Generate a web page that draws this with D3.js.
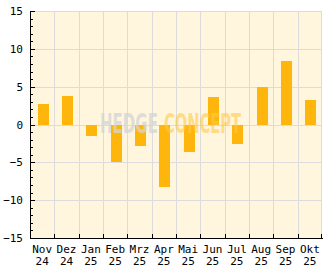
<!DOCTYPE html>
<html>
<head>
<meta charset="utf-8">
<script src="https://cdn.jsdelivr.net/npm/d3@7"></script>
<style>
  body { margin: 0; background: #fff; }
  svg { display: block; }
  .axis text { font-family: "DejaVu Sans Mono", monospace; font-size: 11px; fill: #000; }
  .axis path, .axis line { stroke: #000; shape-rendering: crispEdges; }
</style>
</head>
<body>
<div id="chart"></div>
<script>
// monthly values
var months = ['Nov', 'Dez', 'Jan', 'Feb', 'Mrz', 'Apr', 'Mai', 'Jun', 'Jul', 'Aug', 'Sep', 'Okt'];
var years = ['24', '24', '25', '25', '25', '25', '25', '25', '25', '25', '25', '25'];
var values = [2.7, 3.8, -1.5, -5.0, -2.9, -8.2, -3.7, 3.6, -2.6, 4.9, 8.4, 3.2];
var yTicks = [-15, -10, -5, 0, 5, 10, 15];

var margin = {top: 11, right: 10, bottom: 31, left: 30},
    width = 332 - margin.left - margin.right,
    height = 269 - margin.top - margin.bottom;

var keys = months.map(function(m, i) { return m + ' ' + years[i]; });

var x = d3.scaleBand().domain(keys).range([0, width]).paddingInner(0.548).paddingOuter(0.274);
var xb = d3.scaleBand().domain(keys).range([0, width]);
var y = d3.scaleLinear().domain([-15, 15]).range([height, 0]);

var svg = d3.select('#chart')
  .append('svg')
    .attr('width', 332)
    .attr('height', 269)
  .append('g')
    .attr('transform', 'translate(' + margin.left + ',' + margin.top + ')');

// plot background
svg.append('rect')
  .attr('width', width)
  .attr('height', height)
  .attr('fill', '#fff6dd');

// grid
var grid = svg.append('g').attr('stroke', '#dcdcdc').attr('shape-rendering', 'crispEdges');
grid.selectAll('.hg')
  .data(yTicks)
  .enter().append('line')
  .attr('x1', 0).attr('x2', width)
  .attr('y1', function(d) { return Math.round(y(d)) + 0.5; })
  .attr('y2', function(d) { return Math.round(y(d)) + 0.5; });
grid.selectAll('.vg')
  .data(keys.slice(1).concat(['end']))
  .enter().append('line')
  .attr('x1', function(d) { return d === 'end' ? width - 0.5 : Math.round(xb(d)) + 0.5; })
  .attr('x2', function(d) { return d === 'end' ? width - 0.5 : Math.round(xb(d)) + 0.5; })
  .attr('y1', 0).attr('y2', height);

// bars
svg.selectAll('.bar')
  .data(values)
  .enter().append('rect')
  .attr('class', 'bar')
  .attr('fill', '#ffb60c')
  .attr('shape-rendering', 'crispEdges')
  .attr('x', function(d, i) { return Math.round(x(keys[i])) + 1; })
  .attr('width', Math.round(x.bandwidth()))
  .attr('y', function(d) { return y(Math.max(d, 0)); })
  .attr('height', function(d) { return Math.abs(y(d) - y(0)); });

// watermark
var wm = svg.append('g')
  .attr('font-family', '"Liberation Sans Narrow", "DejaVu Sans Condensed", sans-serif')
  .attr('font-weight', 'bold')
  .attr('font-size', '26px');
wm.append('text')
  .attr('x', 70).attr('y', 122)
  .attr('textLength', 58).attr('lengthAdjust', 'spacingAndGlyphs')
  .attr('fill', '#d4d4d4').attr('fill-opacity', 0.75)
  .text('HEDGE');
wm.append('text')
  .attr('x', 134).attr('y', 122)
  .attr('textLength', 77).attr('lengthAdjust', 'spacingAndGlyphs')
  .attr('fill', '#ffc94a').attr('fill-opacity', 0.6)
  .text('CONCEPT');

// y axis, minor then major ticks
svg.append('g')
  .attr('class', 'axis')
  .call(d3.axisLeft(y).tickValues(d3.range(-15, 16)).tickSize(-3).tickFormat(''))
  .select('.domain').remove();
svg.append('g')
  .attr('class', 'axis')
  .call(d3.axisLeft(y).tickValues(yTicks).tickSize(-5).tickSizeOuter(0).tickPadding(7));

// x axis
var xa = svg.append('g')
  .attr('class', 'axis')
  .attr('transform', 'translate(0,' + height + ')');
xa.append('line')
  .attr('x1', 0).attr('x2', width + 0.5)
  .attr('y1', 0.5).attr('y2', 0.5);
xa.selectAll('.xt')
  .data(keys.slice(1).concat(['end']))
  .enter().append('line')
  .attr('x1', function(d) { return d === 'end' ? width - 0.5 : Math.round(xb(d)) + 0.5; })
  .attr('x2', function(d) { return d === 'end' ? width - 0.5 : Math.round(xb(d)) + 0.5; })
  .attr('y1', 0).attr('y2', -4);
var lbl = xa.selectAll('.xl')
  .data(keys)
  .enter().append('text')
  .attr('text-anchor', 'middle')
  .attr('x', function(d) { return xb(d) + xb.bandwidth() / 2; });
lbl.append('tspan')
  .attr('x', function(d) { return xb(d) + xb.bandwidth() / 2; })
  .attr('y', 14.5)
  .text(function(d, i) { return months[i]; });
lbl.append('tspan')
  .attr('x', function(d) { return xb(d) + xb.bandwidth() / 2; })
  .attr('y', 27)
  .text(function(d, i) { return years[i]; });
</script>
</body>
</html>
